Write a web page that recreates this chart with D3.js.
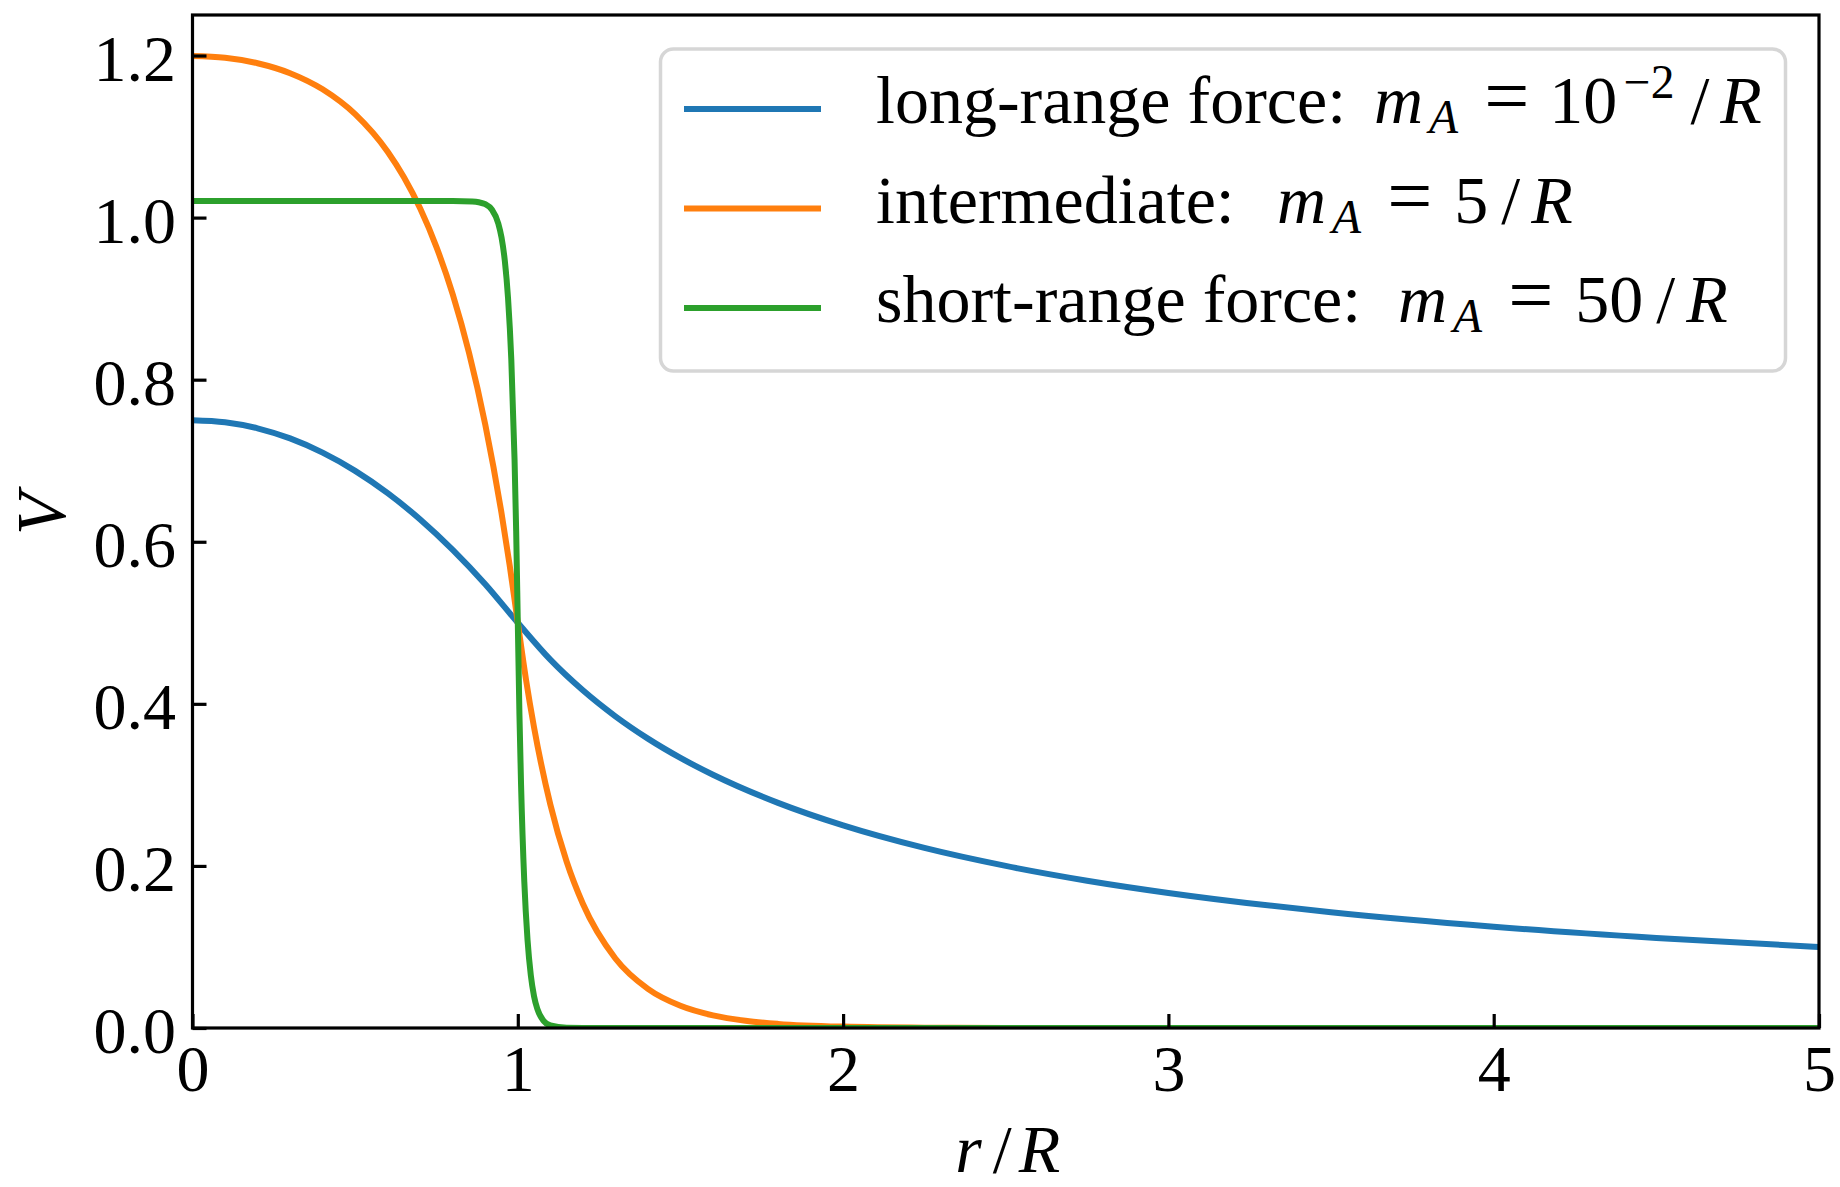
<!DOCTYPE html>
<html>
<head>
<meta charset="utf-8">
<script src="https://cdn.jsdelivr.net/npm/d3@7"></script>
<style>
  html, body { margin: 0; padding: 0; background: #fff; }
  svg { display: block; }
  text { font-family: "Liberation Serif", "Times New Roman", serif; fill: #000; }
</style>
</head>
<body>
<svg id="chart" width="1840" height="1187"></svg>
<script>
// Potential V(r) of a uniformly charged sphere for three mediator masses m_A.

// long-range force: m_A = 1e-2 / R
const rLong = [0, 0.1, 0.2, 0.3, 0.4, 0.5, 0.6, 0.7, 0.8, 0.9, 1.0,
               1.1, 1.2, 1.3, 1.4, 1.5, 1.6, 1.8, 2.0, 2.25, 2.5, 2.75, 3.0, 3.5, 4.0, 4.5, 5.0];
const vLong = [0.75, 0.7475, 0.74, 0.7275, 0.71, 0.6875, 0.66, 0.6275, 0.59, 0.5475, 0.5,
               0.4545, 0.4167, 0.3846, 0.3571, 0.3333, 0.3125, 0.2778, 0.25, 0.2222, 0.2, 0.1818, 0.1667, 0.1429, 0.125, 0.1111, 0.1];

// intermediate: m_A = 5 / R
const rMid = [0, 0.1, 0.2, 0.3, 0.4, 0.5, 0.6, 0.65, 0.7, 0.75, 0.8, 0.85, 0.9, 0.95, 0.975, 1.0,
              1.025, 1.05, 1.1, 1.15, 1.2, 1.3, 1.4, 1.5, 1.6, 1.7, 1.8, 2.0, 2.25, 2.5, 3.0, 4.0, 5.0];
const vMid = [1.1994, 1.1972, 1.1905, 1.1782, 1.1583, 1.1276, 1.0812, 1.0497, 1.0111, 0.9636, 0.9052, 0.8332, 0.7446, 0.6352, 0.5711, 0.5,
              0.4305, 0.3709, 0.2757, 0.2054, 0.1533, 0.0858, 0.0483, 0.0274, 0.0156, 0.0089, 0.0051, 0.0017, 0.0004, 0.0001, 0, 0, 0];

// short-range force: m_A = 50 / R
const rShort = [0, 0.5, 0.8, 0.86, 0.88, 0.9, 0.92, 0.94, 0.95, 0.96, 0.97, 0.98, 0.99, 0.995, 1.0,
                1.005, 1.01, 1.02, 1.03, 1.04, 1.05, 1.06, 1.08, 1.1, 1.15, 1.2, 2.0, 3.0, 4.0, 5.0];
const vShort = [1.0204, 1.0204, 1.0204, 1.0198, 1.0189, 1.0165, 1.0100, 0.9928, 0.9754, 0.9470, 0.9007, 0.8250, 0.7016, 0.6131, 0.5,
                0.3875, 0.3003, 0.1803, 0.1083, 0.0651, 0.0391, 0.0235, 0.0085, 0.0031, 0.0002, 0, 0, 0, 0, 0];

const xTicks = [0, 1, 2, 3, 4, 5];
const xTickLabels = ["0", "1", "2", "3", "4", "5"];
const yTicks = [0, 0.2, 0.4, 0.6, 0.8, 1.0, 1.2];
const yTickLabels = ["0.0", "0.2", "0.4", "0.6", "0.8", "1.0", "1.2"];

const seriesColors = ["#1f77b4", "#ff7f0e", "#2ca02c"];
const legendText = ["long-range force:", "intermediate:", "short-range force:"];
const massNumbers = ["10", "5", "50"];
const massExponents = ["\u22122", null, null];

// ---- layout ----
const plot = { left: 192.5, right: 1819, top: 15, bottom: 1028 };
const svg = d3.select("#chart");

const x = d3.scaleLinear().domain([0, 5]).range([plot.left, plot.right]);
const y = d3.scaleLinear().domain([0, 1.25]).range([plot.bottom, plot.top]);

svg.append("defs").append("clipPath").attr("id", "plot-clip")
  .append("rect")
  .attr("x", plot.left).attr("y", plot.top)
  .attr("width", plot.right - plot.left).attr("height", plot.bottom - plot.top);

// ---- curves ----
const line = d3.line()
  .x(d => x(d[0]))
  .y(d => y(d[1]))
  .curve(d3.curveMonotoneX);

const series = [
  d3.zip(rLong, vLong),
  d3.zip(rMid, vMid),
  d3.zip(rShort, vShort)
];

svg.append("g").attr("clip-path", "url(#plot-clip)")
  .selectAll("path")
  .data(series)
  .join("path")
  .attr("d", line)
  .attr("fill", "none")
  .attr("stroke", (d, i) => seriesColors[i])
  .attr("stroke-width", 6)
  .attr("stroke-linejoin", "round")
  .attr("stroke-linecap", "butt");

// ---- axes (ticks pointing inward) ----
const gx = svg.append("g")
  .attr("transform", `translate(0,${plot.bottom})`)
  .call(d3.axisBottom(x).tickValues(xTicks).tickFormat((d, i) => xTickLabels[i])
    .tickSizeInner(-14).tickSizeOuter(0).tickPadding(0));
gx.select(".domain").remove();
gx.attr("font-family", null).attr("font-size", null);
gx.selectAll(".tick line").attr("stroke", "#000").attr("stroke-width", 3.2);
gx.selectAll(".tick text")
  .attr("y", 63).attr("dy", 0)
  .attr("font-size", 66)
  .attr("text-anchor", "middle");

const gy = svg.append("g")
  .attr("transform", `translate(${plot.left},0)`)
  .call(d3.axisLeft(y).tickValues(yTicks).tickFormat((d, i) => yTickLabels[i])
    .tickSizeInner(-14).tickSizeOuter(0).tickPadding(0));
gy.select(".domain").remove();
gy.attr("font-family", null).attr("font-size", null);
gy.selectAll(".tick line").attr("stroke", "#000").attr("stroke-width", 3.2);
gy.selectAll(".tick text")
  .attr("x", -16.5).attr("dy", 24.5)
  .attr("font-size", 66)
  .attr("text-anchor", "end");

// ---- frame ----
svg.append("rect")
  .attr("x", plot.left).attr("y", plot.top)
  .attr("width", plot.right - plot.left).attr("height", plot.bottom - plot.top)
  .attr("fill", "none").attr("stroke", "#000").attr("stroke-width", 3.2);

// ---- axis labels ----
const xl = svg.append("text")
  .attr("x", (plot.left + plot.right) / 2 + 2)
  .attr("y", 1171.5)
  .attr("font-size", 68)
  .attr("text-anchor", "middle");
xl.append("tspan").attr("font-style", "italic").text("r");
xl.append("tspan").attr("dx", 11).text("/");
xl.append("tspan").attr("dx", 7).attr("font-style", "italic").text("R");

svg.append("text")
  .attr("transform", "translate(65,514) rotate(-90)")
  .attr("font-size", 69)
  .attr("font-style", "italic")
  .attr("text-anchor", "middle")
  .text("V");

// ---- legend ----
const legend = svg.append("g");
legend.append("rect")
  .attr("x", 660.5).attr("y", 49)
  .attr("width", 1125).attr("height", 322)
  .attr("rx", 13).attr("ry", 13)
  .attr("fill", "#fff").attr("fill-opacity", 0.8)
  .attr("stroke", "#d6d6d6").attr("stroke-width", 3.5);

const rowStep = 99.5;
const textX = 876;
// x where the math part (m_A = ...) of each entry begins
const mathStart = [1374, 1277, 1398];

legendText.forEach((label, i) => {
  const cy = 109 + i * rowStep;
  legend.append("line")
    .attr("x1", 684).attr("x2", 821)
    .attr("y1", cy).attr("y2", cy)
    .attr("stroke", seriesColors[i]).attr("stroke-width", 6);

  const t = legend.append("text")
    .attr("x", textX).attr("y", cy + 14)
    .attr("font-size", 68);
  const lab = t.append("tspan").text(label);
  const labW = lab.node().getComputedTextLength();
  t.append("tspan").attr("dx", mathStart[i] - textX - labW).attr("font-style", "italic").text("m");
  t.append("tspan").attr("dx", 6).attr("dy", 10)
    .attr("font-style", "italic").attr("font-size", 47.6).text("A");
  t.append("tspan").attr("dx", 26).attr("dy", -10)
    .attr("font-size", 80).text("=");
  t.append("tspan").attr("dx", massNumbers[i].startsWith("1") ? 20 : 22).text(massNumbers[i]);
  if (massExponents[i]) {
    t.append("tspan").attr("dx", 6.5).attr("dy", -25).attr("font-size", 47.6).text(massExponents[i]);
    t.append("tspan").attr("dx", 16).attr("dy", 25).text("/");
  } else {
    t.append("tspan").attr("dx", 13).text("/");
  }
  t.append("tspan").attr("dx", 11).attr("font-style", "italic").text("R");
});
</script>
</body>
</html>
